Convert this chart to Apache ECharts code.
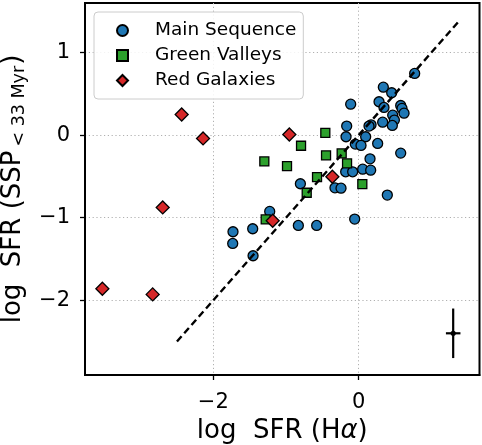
<!DOCTYPE html>
<html>
<head>
<meta charset="utf-8">
<script src="https://cdn.jsdelivr.net/npm/echarts@6/dist/echarts.min.js"></script>
<style>html,body{margin:0;padding:0;background:#fff}#c{width:482px;height:445px}</style>
</head>
<body>
<div id="c"></div>
<script>
// Data
var mainSequence = [[0.77,0.747],[0.339,0.581],[0.454,0.513],[-0.11,0.375],[0.28,0.404],[0.348,0.335],[0.578,0.359],[0.596,0.323],[0.624,0.266],[0.468,0.242],[0.491,0.182],[0.463,0.117],[0.33,0.157],[0.17,0.125],[0.142,0.109],[-0.165,0.109],[-0.174,-0.02],[0.096,-0.02],[-0.046,-0.109],[0.032,-0.125],[0.261,-0.101],[0.578,-0.218],[0.156,-0.287],[0.055,-0.412],[0.165,-0.424],[-0.179,-0.444],[-0.083,-0.444],[-0.802,-0.589],[-0.326,-0.638],[-0.243,-0.642],[0.394,-0.726],[-1.224,-0.924],[-0.83,-1.094],[-0.578,-1.094],[-0.055,-1.017],[-1.729,-1.17],[-1.458,-1.134],[-1.733,-1.312],[-1.453,-1.461]];
var greenValleys = [[-0.459,0.028],[-0.793,-0.129],[-1.298,-0.319],[-0.986,-0.375],[-0.449,-0.246],[-0.234,-0.222],[-0.16,-0.343],[-0.573,-0.508],[-0.715,-0.698],[0.05,-0.593],[-1.279,-1.021]];
var redGalaxies = [[-2.435,0.25],[-2.141,-0.04],[-0.954,0.008],[-2.696,-0.876],[-0.362,-0.504],[-1.183,-1.037],[-3.526,-1.86],[-2.834,-1.929]];
var oneToOne = [[-2.5,-2.5],[1.4,1.4]];
var errCenter = [1.3,-2.4];
var errSize = [0.1,0.3];
var xTicks = [-2,0];
var yTicks = [-2,-1,0,1];
var xRange = [-3.765,1.662];
var yRange = [-2.905,1.6];

var FONT = 'DejaVu Sans';
function fmt(v){ if (Math.abs(v - Math.round(v)) > 1e-6) return ''; v = Math.round(v); return v < 0 ? '\u2212' + Math.abs(v) : String(v); }

var chart = echarts.init(document.getElementById('c'), null, {renderer:'canvas'});
var gridLine = {show:true, lineStyle:{color:'#b0b0b0', width:1, type:[1.2,2.6]}};
var axisLine = {show:true, onZero:false, lineStyle:{color:'#000', width:2}};
var tick = function(vals){ return {show:true, inside:false, length:5, lineStyle:{color:'#000', width:1.3}, customValues:vals}; };
var option = {
  animation:false,
  backgroundColor:'#fff',
  grid:{left:85, right:2.5, top:3, bottom:70, containLabel:false, outerBoundsMode:'none', show:true, borderColor:'#000', borderWidth:2, backgroundColor:'transparent'},
  legend:{
    orient:'vertical', left:94, top:12,
    padding:[9,7,9,22], itemGap:6, itemWidth:11, itemHeight:11,
    backgroundColor:'rgba(255,255,255,0.85)', borderColor:'#cccccc', borderWidth:1, borderRadius:4,
    textStyle:{fontFamily:FONT, fontSize:18.5, color:'#000', padding:[0,0,0,22], lineHeight:17},
    data:['Main Sequence','Green Valleys','Red Galaxies'],
    z:20
  },
  xAxis:{
    type:'value', min:xRange[0], max:xRange[1], splitNumber:3,
    axisLine:axisLine,
    axisTick:tick(xTicks),
    axisLabel:{fontFamily:FONT, fontSize:21, color:'#000', margin:17, formatter:fmt, customValues:xTicks},
    splitLine:gridLine,
    name:'{n|log  SFR (H}{i|\u03b1}{n|)}', nameLocation:'middle', nameGap:39,
    nameTextStyle:{rich:{n:{fontFamily:FONT, fontSize:26, color:'#000', lineHeight:30}, i:{fontFamily:FONT, fontSize:26, fontStyle:'italic', color:'#000', lineHeight:30}}}
  },
  yAxis:{
    type:'value', min:yRange[0], max:yRange[1], splitNumber:5,
    axisLine:axisLine,
    axisTick:tick(yTicks),
    axisLabel:{fontFamily:FONT, fontSize:21, color:'#000', margin:15, formatter:fmt, customValues:yTicks},
    splitLine:gridLine,
    name:'{n|log  SFR (SSP}{s|< 33 Myr}{n|)}', nameLocation:'middle', nameGap:55,
    nameTextStyle:{rich:{n:{fontFamily:FONT, fontSize:26, color:'#000', lineHeight:30}, s:{fontFamily:FONT, fontSize:17.5, color:'#000', lineHeight:18, verticalAlign:'bottom', padding:[0,1,0,4]}}}
  },
  series:[
    {name:'Main Sequence', type:'scatter', data:mainSequence, symbol:'circle', symbolSize:10, z:2,
     itemStyle:{color:'#1f77b4', borderColor:'#000', borderWidth:1.3, opacity:1}},
    {name:'Green Valleys', type:'scatter', data:greenValleys, symbol:'rect', symbolSize:9, z:3,
     itemStyle:{color:'#2ca02c', borderColor:'#000', borderWidth:1.3, opacity:1}},
    {name:'Red Galaxies', type:'scatter', data:redGalaxies, symbol:'diamond', symbolSize:13, z:4,
     itemStyle:{color:'#d62728', borderColor:'#000', borderWidth:1.3, opacity:1}},
    {name:'1:1', type:'line', data:oneToOne, showSymbol:false, symbol:'none', z:6, silent:true,
     lineStyle:{color:'#000', width:2.4, type:[7,4]}},
    {name:'err', type:'custom', z:7, silent:true, data:[errCenter],
     renderItem:function(params, api){
       var x = api.value(0), y = api.value(1);
       var l = api.coord([x - errSize[0], y]), r = api.coord([x + errSize[0], y]);
       var t = api.coord([x, y + errSize[1]]), b = api.coord([x, y - errSize[1]]);
       var c = api.coord([x, y]);
       return {type:'group', children:[
         {type:'line', shape:{x1:l[0], y1:l[1], x2:r[0], y2:r[1]}, style:{stroke:'#000', lineWidth:2.2}},
         {type:'line', shape:{x1:t[0], y1:t[1], x2:b[0], y2:b[1]}, style:{stroke:'#000', lineWidth:2.2}},
         {type:'circle', shape:{cx:c[0], cy:c[1], r:2.6}, style:{fill:'#000'}}
       ]};
     }}
  ]
};
chart.setOption(option);
</script>
</body>
</html>
